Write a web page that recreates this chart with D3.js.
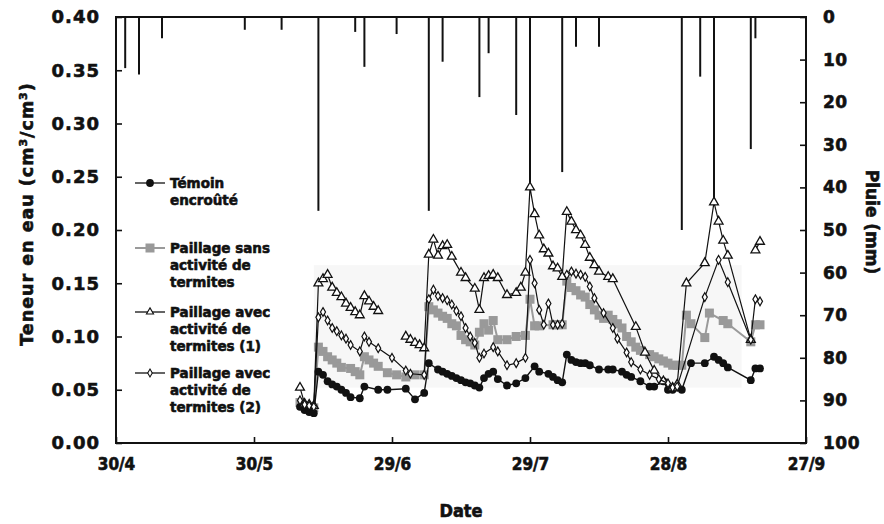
<!DOCTYPE html>
<html>
<head>
<meta charset="utf-8">
<script src="https://cdn.jsdelivr.net/npm/d3@7"></script>
<style>
  body { margin: 0; background: #fff; }
  text { font-family: "DejaVu Sans", sans-serif; font-weight: bold; fill: #111;
         stroke: #111; stroke-width: 0.6px; paint-order: stroke; }
  .narrow { font-family: "Liberation Sans Narrow", "DejaVu Sans Condensed", "DejaVu Sans", sans-serif; font-stretch: condensed; }
</style>
</head>
<body>
<svg id="chart" width="884" height="524"></svg>
<script>
// Axis ticks
const dateTicks = ["30/4", "30/5", "29/6", "29/7", "28/8", "27/9"];
const moistureTicks = [0, 0.05, 0.10, 0.15, 0.20, 0.25, 0.30, 0.35, 0.40];
const rainTicks = [0, 10, 20, 30, 40, 50, 60, 70, 80, 90, 100];

// Daily rainfall (mm)
const rainDates = ["2/5", "5/5", "10/5", "28/5", "5/6", "13/6", "21/6", "23/6", "30/6", "7/7", "10/7", "18/7",
  "20/7", "26/7", "29/7", "5/8", "8/8", "13/8", "31/8", "4/9", "7/9", "15/9", "16/9"];
const rainMm = [12, 13.5, 5, 3, 3, 45.5, 3.5, 11.7, 4, 45.5, 10.5, 18.8,
  8.5, 23, 40, 36.4, 7, 7, 50, 14, 44, 31, 5];

// Soil water content (cm3/cm3); null marks a gap in the record
const temoin = [
  ["9/6", 0.034], ["10/6", 0.031], ["11/6", 0.029], ["12/6", 0.028], ["13/6", 0.067], ["14/6", 0.064],
  ["15/6", 0.058], ["16/6", 0.055], ["17/6", 0.053], ["18/6", 0.050], ["19/6", 0.047], ["20/6", 0.043],
  ["22/6", 0.042], ["23/6", 0.053], ["26/6", 0.050], ["28/6", 0.050], ["2/7", 0.051], ["4/7", 0.041],
  ["6/7", 0.047], ["7/7", 0.075], ["9/7", 0.069], ["10/7", 0.067], ["11/7", 0.065], ["12/7", 0.063],
  ["13/7", 0.061], ["14/7", 0.059], ["15/7", 0.057], ["16/7", 0.056], ["17/7", 0.054], ["18/7", 0.052],
  ["19/7", 0.061], ["20/7", 0.065], ["21/7", 0.067], ["22/7", 0.060], ["24/7", 0.054], ["26/7", 0.056],
  ["28/7", 0.061], ["30/7", 0.072], ["31/7", 0.067], ["2/8", 0.065], ["3/8", 0.062], ["4/8", 0.059],
  ["5/8", 0.057], ["6/8", 0.083], ["7/8", 0.078], ["8/8", 0.076], ["9/8", 0.075], ["10/8", 0.075],
  ["11/8", 0.073], ["13/8", 0.069], ["15/8", 0.069], ["16/8", 0.069], ["18/8", 0.067], ["19/8", 0.064],
  ["20/8", 0.062], ["22/8", 0.058], ["24/8", 0.053], ["25/8", 0.053], ["27/8", 0.058], ["28/8", 0.050],
  ["29/8", 0.050], ["30/8", 0.052], ["31/8", 0.050], ["2/9", 0.075], ["5/9", 0.075], ["7/9", 0.081],
  ["8/9", 0.078], ["9/9", 0.075], ["10/9", 0.071], ["15/9", 0.059], ["16/9", 0.070], ["17/9", 0.070]
];
const paillageSans = [
  ["9/6", 0.038], ["10/6", 0.035], ["11/6", 0.034], ["12/6", 0.033], ["13/6", 0.090], ["14/6", 0.086],
  ["15/6", 0.081], ["16/6", 0.078], ["17/6", 0.075], ["18/6", 0.071], ["20/6", 0.070], ["21/6", 0.067],
  ["22/6", 0.064], ["23/6", 0.081], ["24/6", 0.078], ["25/6", 0.075], ["26/6", 0.072], ["28/6", 0.066],
  ["30/6", 0.064], ["2/7", 0.062], ["4/7", 0.064], ["6/7", 0.064], ["7/7", 0.128], ["8/7", 0.125],
  ["9/7", 0.122], ["10/7", 0.119], ["11/7", 0.117], ["12/7", 0.112], ["13/7", 0.110], ["14/7", 0.101],
  ["15/7", 0.097], ["16/7", 0.095], ["17/7", 0.092], ["18/7", 0.104], ["19/7", 0.112], ["20/7", 0.106],
  ["21/7", 0.115], ["22/7", 0.097], ["24/7", 0.097], ["26/7", 0.100], ["28/7", 0.101], ["29/7", 0.135],
  ["30/7", 0.110], ["31/7", 0.110], ["3/8", 0.111], ["4/8", 0.111], ["5/8", 0.111], ["6/8", 0.152],
  ["7/8", 0.146], ["8/8", 0.143], ["9/8", 0.139], ["10/8", 0.137], ["11/8", 0.130], ["12/8", 0.125],
  ["13/8", 0.120], ["14/8", 0.117], ["15/8", 0.120], ["16/8", 0.116], ["17/8", 0.112], ["18/8", 0.108],
  ["19/8", 0.100], ["20/8", 0.095], ["21/8", 0.090], ["22/8", 0.087], ["24/8", 0.083], ["25/8", 0.081],
  ["26/8", 0.079], ["27/8", 0.077], ["28/8", 0.075], ["29/8", 0.073], ["30/8", 0.073], ["31/8", 0.073],
  ["1/9", 0.120], ["2/9", 0.112], ["5/9", 0.099], ["6/9", 0.122], ["9/9", 0.115], ["10/9", 0.112],
  ["15/9", 0.095], ["16/9", 0.111], ["17/9", 0.111]
];
const paillageAvec1 = [
  ["9/6", 0.052], ["10/6", 0.037], ["11/6", 0.036], ["12/6", 0.035], ["13/6", 0.150], ["14/6", 0.154],
  ["15/6", 0.158], ["16/6", 0.146], ["17/6", 0.141], ["18/6", 0.137], ["19/6", 0.131], ["20/6", 0.127],
  ["21/6", 0.123], ["22/6", 0.120], ["23/6", 0.138], ["24/6", 0.133], ["25/6", 0.128], ["26/6", 0.124],
  ["29/6", null],
  ["2/7", 0.100], ["3/7", 0.097], ["4/7", 0.094], ["5/7", 0.092], ["6/7", 0.089], ["7/7", 0.177],
  ["8/7", 0.191], ["9/7", 0.176], ["10/7", 0.185], ["11/7", 0.186], ["12/7", 0.175], ["14/7", 0.160],
  ["15/7", 0.155], ["17/7", 0.145], ["18/7", 0.125], ["19/7", 0.155], ["20/7", 0.157], ["21/7", 0.158],
  ["22/7", 0.155], ["24/7", 0.139], ["26/7", 0.141], ["27/7", 0.146], ["28/7", 0.160], ["29/7", 0.240],
  ["30/7", 0.215], ["31/7", 0.195], ["1/8", 0.182], ["2/8", 0.178], ["3/8", 0.166], ["4/8", 0.164],
  ["5/8", 0.156], ["6/8", 0.217], ["7/8", 0.208], ["8/8", 0.200], ["9/8", 0.195], ["10/8", 0.186],
  ["11/8", 0.174], ["12/8", 0.167], ["13/8", 0.161], ["15/8", 0.156], ["16/8", 0.154], ["21/8", 0.109],
  ["23/8", 0.085], ["25/8", 0.068], ["27/8", 0.058], ["29/8", 0.052], ["30/8", 0.055], ["1/9", 0.150],
  ["5/9", 0.169], ["7/9", 0.226], ["8/9", 0.208], ["9/9", 0.190], ["10/9", 0.176], ["15/9", 0.097],
  ["16/9", null], ["16/9", 0.181], ["17/9", 0.189]
];
const paillageAvec2 = [
  ["9/6", 0.040], ["10/6", 0.036], ["11/6", 0.035], ["12/6", 0.034], ["13/6", 0.118], ["14/6", 0.123],
  ["15/6", 0.115], ["16/6", 0.108], ["17/6", 0.105], ["18/6", 0.101], ["19/6", 0.098], ["20/6", 0.092],
  ["22/6", 0.086], ["23/6", 0.100], ["24/6", 0.095], ["26/6", 0.089], ["29/6", 0.080], ["2/7", 0.068],
  ["3/7", 0.065], ["6/7", 0.064], ["7/7", 0.135], ["8/7", 0.144], ["9/7", 0.138], ["10/7", 0.136],
  ["11/7", 0.134], ["12/7", 0.130], ["13/7", 0.124], ["14/7", 0.119], ["15/7", 0.108], ["16/7", 0.100],
  ["17/7", 0.094], ["18/7", 0.080], ["19/7", 0.084], ["21/7", 0.090], ["22/7", 0.086], ["24/7", 0.073],
  ["26/7", 0.075], ["28/7", 0.080], ["29/7", 0.172], ["30/7", 0.150], ["31/7", 0.125], ["1/8", 0.111],
  ["2/8", 0.131], ["3/8", 0.111], ["4/8", 0.111], ["5/8", 0.112], ["6/8", 0.158], ["7/8", 0.161],
  ["8/8", 0.159], ["9/8", 0.158], ["10/8", 0.156], ["11/8", 0.147], ["12/8", 0.136], ["14/8", 0.122],
  ["16/8", 0.108], ["17/8", 0.098], ["19/8", 0.085], ["20/8", 0.076], ["22/8", 0.069], ["24/8", 0.064],
  ["26/8", 0.060], ["28/8", 0.056], ["29/8", 0.052], ["30/8", 0.053], ["5/9", 0.137], ["8/9", 0.172],
  ["10/9", 0.151], ["15/9", 0.097], ["16/9", 0.135], ["17/9", 0.133]
];

const parseDay = d3.timeParse("%d/%m");
const svg = d3.select("#chart");

const x = d3.scaleTime().domain([parseDay(dateTicks[0]), parseDay(dateTicks[dateTicks.length - 1])]).range([116, 806]);
const y = d3.scaleLinear().domain([0, 0.40]).range([443, 17]);
const yRain = d3.scaleLinear().domain([0, 100]).range([17, 443]);

// faint shaded panel behind the central part of the record
svg.append("rect")
  .attr("x", x(parseDay("12/6"))).attr("y", y(0.167))
  .attr("width", x(parseDay("13/9")) - x(parseDay("12/6")))
  .attr("height", y(0.052) - y(0.167))
  .attr("fill", "#f7f7f7");

// rainfall hanging from the top axis
svg.append("g").selectAll("line")
  .data(rainDates.map((d, i) => [parseDay(d), rainMm[i]]))
  .join("line")
  .attr("x1", d => x(d[0])).attr("x2", d => x(d[0]))
  .attr("y1", yRain(0)).attr("y2", d => yRain(d[1]))
  .attr("stroke", "#111").attr("stroke-width", 2);

function prep(arr) { return arr.map(d => ({ date: parseDay(d[0]), v: d[1] })); }
const line = d3.line().defined(d => d.v != null).x(d => x(d.date)).y(d => y(d.v));

// Paillage sans activité: grey squares
const sans = prep(paillageSans);
svg.append("path").datum(sans).attr("d", line)
  .attr("fill", "none").attr("stroke", "#9a9a9a").attr("stroke-width", 2);
svg.append("g").selectAll("rect").data(sans.filter(d => d.v != null)).join("rect")
  .attr("x", d => x(d.date) - 4.5).attr("y", d => y(d.v) - 4.5)
  .attr("width", 9).attr("height", 9).attr("fill", "#999");

// Témoin: filled circles
const tem = prep(temoin);
svg.append("path").datum(tem).attr("d", line)
  .attr("fill", "none").attr("stroke", "#111").attr("stroke-width", 1.4);
svg.append("g").selectAll("circle").data(tem).join("circle")
  .attr("cx", d => x(d.date)).attr("cy", d => y(d.v)).attr("r", 3.9).attr("fill", "#111");

// Paillage avec activité (1): open triangles
const av1 = prep(paillageAvec1);
svg.append("path").datum(av1).attr("d", line)
  .attr("fill", "none").attr("stroke", "#111").attr("stroke-width", 1.2);
const tri = d3.symbol(d3.symbolTriangle, 34);
svg.append("g").selectAll("path").data(av1.filter(d => d.v != null)).join("path")
  .attr("d", tri).attr("transform", d => `translate(${x(d.date)},${y(d.v)})`)
  .attr("fill", "#fff").attr("stroke", "#111").attr("stroke-width", 1.3);

// Paillage avec activité (2): open diamonds
const av2 = prep(paillageAvec2);
svg.append("path").datum(av2).attr("d", line)
  .attr("fill", "none").attr("stroke", "#111").attr("stroke-width", 1.2);
const dia = d3.symbol(d3.symbolDiamond, 22);
svg.append("g").selectAll("path").data(av2).join("path")
  .attr("d", dia).attr("transform", d => `translate(${x(d.date)},${y(d.v)})`)
  .attr("fill", "#fff").attr("stroke", "#111").attr("stroke-width", 1.2);

// Axes (ticks point inwards)
const left = svg.append("g").attr("transform", "translate(116,0)")
  .call(d3.axisLeft(y).tickValues(moistureTicks).tickFormat(d3.format(".2f")).tickSize(-6).tickPadding(16));
const right = svg.append("g").attr("transform", "translate(806,0)")
  .call(d3.axisRight(yRain).tickValues(rainTicks).tickSize(-6).tickPadding(17));
const bottom = svg.append("g").attr("transform", "translate(0,443)")
  .call(d3.axisBottom(x).tickValues(dateTicks.map(parseDay)).tickFormat(d3.timeFormat("%-d/%-m")).tickSize(-6).tickPadding(15));
[left, right, bottom].forEach(g => {
  g.select(".domain").remove();
  g.selectAll(".tick line").attr("stroke", "#111").attr("stroke-width", 1.6);
  g.selectAll("text").attr("font-size", 17).attr("fill", "#111");
});
left.selectAll("text").attr("font-size", 18).style("letter-spacing", "1px");
right.selectAll("text").style("letter-spacing", "0.5px");
bottom.selectAll("text").attr("class", "narrow").attr("font-size", 17);

// frame
svg.append("rect").attr("x", 116).attr("y", 17).attr("width", 690).attr("height", 426)
  .attr("fill", "none").attr("stroke", "#111").attr("stroke-width", 2);

// Axis titles
const yt = svg.append("text").attr("transform", "translate(33,214) rotate(-90)")
  .attr("text-anchor", "middle").attr("font-size", 17.5).style("letter-spacing", "1px");
yt.append("tspan").text("Teneur en eau (cm");
yt.append("tspan").attr("baseline-shift", "super").attr("font-size", 11).text("3");
yt.append("tspan").text("/cm");
yt.append("tspan").attr("baseline-shift", "super").attr("font-size", 11).text("3");
yt.append("tspan").text(")");

svg.append("text").attr("transform", "translate(866,222) rotate(90)")
  .attr("text-anchor", "middle").attr("font-size", 17).text("Pluie (mm)");

svg.append("text").attr("class", "narrow").attr("x", 461).attr("y", 517)
  .attr("text-anchor", "middle").attr("font-size", 18).text("Date");

// Legend
const legendRows = [
  { y: 183, lines: ["Témoin", "encroûté"] },
  { y: 248, lines: ["Paillage sans", "activité de", "termites"] },
  { y: 312, lines: ["Paillage avec", "activité de", "termites (1)"] },
  { y: 373, lines: ["Paillage avec", "activité de", "termites (2)"] }
];
const lg = svg.append("g");
legendRows.forEach((r, i) => {
  lg.append("line").attr("x1", 135).attr("x2", 165).attr("y1", r.y).attr("y2", r.y)
    .attr("stroke", i === 1 ? "#9a9a9a" : "#111").attr("stroke-width", i === 1 ? 2 : 1.3);
  if (i === 0) lg.append("circle").attr("cx", 150).attr("cy", r.y).attr("r", 3.9).attr("fill", "#111");
  if (i === 1) lg.append("rect").attr("x", 145.5).attr("y", r.y - 4.5).attr("width", 9).attr("height", 9).attr("fill", "#999");
  if (i === 2) lg.append("path").attr("d", d3.symbol(d3.symbolTriangle, 22)).attr("transform", `translate(150,${r.y})`)
    .attr("fill", "#fff").attr("stroke", "#111").attr("stroke-width", 1.1);
  if (i === 3) lg.append("path").attr("d", d3.symbol(d3.symbolDiamond, 18)).attr("transform", `translate(150,${r.y})`)
    .attr("fill", "#fff").attr("stroke", "#111").attr("stroke-width", 1.1);
  const t = lg.append("text").attr("x", 170).attr("y", r.y + 5).attr("font-size", 13.5);
  r.lines.forEach((s, k) => t.append("tspan").attr("x", 170).attr("dy", k === 0 ? 0 : 17).text(s));
});
</script>
</body>
</html>
